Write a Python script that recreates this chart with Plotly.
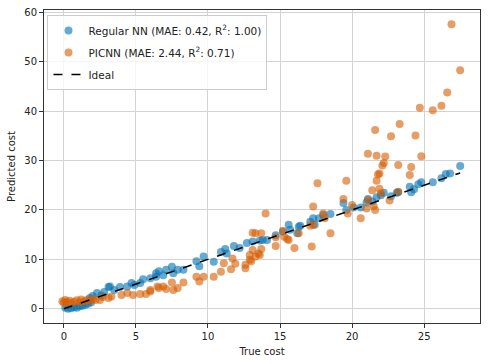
"""Predicted vs true cost scatter for Regular NN and PICNN."""

import plotly.graph_objects as go

# Regular NN predictions
nn_true = [0.1, 0.3, 0.5, 0.7, 0.9, 1.1, 1.3, 1.5, 1.7, 1.9, 1.8, 2.0, 2.3, 2.6, 2.8,
           3.1, 3.2, 3.5, 3.9, 4.4, 4.7, 4.9, 5.3, 5.5, 6.0, 6.4, 6.4, 6.6, 6.9, 7.1,
           7.5, 7.6, 7.9, 8.3, 9.2, 9.4, 9.7, 10.4, 10.9, 11.2, 11.3, 11.8, 12.2, 12.7,
           13.1, 13.6, 13.8, 14.1, 14.7, 15.2, 15.6, 15.7, 16.2, 16.3, 16.4, 17.1, 17.3,
           17.4, 17.7, 18.0, 18.5, 19.4, 19.6, 20.1, 20.6, 21.0, 21.1, 21.4, 21.7, 22.0,
           22.2, 22.7, 23.1, 23.2, 24.0, 24.1, 24.3, 24.6, 24.8, 25.6, 26.2, 26.5, 26.8,
           27.5]
nn_pred = [0.2, 0.0, 0.1, 0.3, 0.2, 0.5, 0.6, 0.8, 1.0, 1.3, 2.2, 2.6, 3.2, 2.7, 3.4,
           4.4, 4.5, 3.8, 4.4, 4.5, 5.2, 4.8, 5.2, 6.0, 6.2, 6.5, 7.2, 7.6, 6.8, 7.9,
           8.5, 7.2, 7.9, 7.9, 9.6, 8.6, 10.6, 9.5, 11.5, 12.1, 11.2, 12.7, 12.3, 13.3,
           13.6, 13.8, 13.9, 13.9, 14.9, 15.6, 17.0, 16.0, 15.3, 16.6, 16.8, 17.6, 18.3,
           17.0, 18.3, 19.0, 19.2, 21.4, 20.0, 20.5, 20.5, 21.5, 22.2, 21.7, 22.6, 23.0,
           23.5, 22.8, 23.5, 23.6, 24.7, 23.6, 24.2, 25.2, 25.6, 25.6, 26.4, 27.3, 27.4,
           28.9]

# PICNN predictions
pi_true = [-0.1, 0.0, 0.1, 0.2, 0.4, 0.5, 0.7, 0.9, 1.1, 1.2, 1.4, 1.6, 1.8, 2.0, 2.2,
           2.5, 2.7, 3.1, 3.3, 4.0, 4.4, 4.8, 5.3, 5.7, 6.0, 6.0, 6.5, 6.6, 6.9, 7.1,
           7.5, 7.6, 7.9, 8.3, 9.2, 9.4, 9.7, 10.4, 10.9, 11.1, 11.6, 11.9, 11.7, 12.6,
           12.6, 12.9, 12.9, 13.3, 13.5, 13.1, 13.0, 13.1, 13.3, 13.7, 13.7, 13.6, 14.0,
           14.7, 14.7, 15.2, 15.3, 15.5, 15.6, 16.0, 16.3, 17.1, 17.2, 17.3, 17.3, 17.6,
           18.0, 18.1, 18.5, 19.4, 19.6, 19.7, 20.0, 20.6, 21.0, 21.1, 21.1, 21.4, 21.5,
           21.6, 21.6, 21.7, 21.7, 21.8, 21.9, 21.9, 22.0, 22.1, 22.2, 22.3, 22.6, 22.7,
           23.2, 23.2, 23.3, 24.0, 24.1, 24.4, 24.7, 24.8, 25.6, 26.2, 26.6, 26.9, 27.5]
pi_pred = [1.5, 1.2, 1.8, 1.3, 1.6, 1.1, 1.4, 1.7, 1.3, 1.9, 1.5, 1.8, 1.6, 2.0, 1.8,
           1.8, 2.4, 2.2, 2.5, 2.8, 3.2, 2.8, 3.0, 3.0, 3.5, 3.8, 4.5, 4.2, 4.5, 4.0,
           5.3, 3.8, 4.2, 5.3, 6.5, 5.5, 6.5, 6.5, 7.5, 9.2, 8.0, 9.1, 10.2, 8.9,
           8.2, 9.9, 10.9, 10.6, 11.2, 11.9, 9.6, 15.4, 15.3, 15.3, 12.1, 10.9, 19.3,
           12.7, 14.5, 15.8, 14.6, 14.1, 13.9, 12.3, 15.3, 16.8, 12.6, 17.0, 20.7, 25.4,
           19.3, 18.3, 15.3, 22.2, 25.9, 19.3, 21.0, 18.3, 20.3, 22.0, 31.4, 24.0, 20.8,
           20.0, 36.2, 25.9, 31.0, 27.2, 27.4, 24.3, 23.4, 29.0, 29.5, 30.8, 21.9, 34.9,
           29.1, 23.7, 37.4, 27.1, 28.7, 35.1, 40.7, 30.9, 40.2, 41.1, 43.8, 57.6, 48.3]

ideal = [0.0, 27.5]

labels = [
    "Regular NN (MAE: 0.42, R<sup>2</sup>: 1.00)",
    "PICNN (MAE: 2.44, R<sup>2</sup>: 0.71)",
    "Ideal",
]

fig = go.Figure()
fig.add_trace(go.Scatter(
    x=nn_true, y=nn_pred, mode="markers", name=labels[0], legendgroup="nn",
    marker=dict(color="#0072B2", size=8, opacity=0.6, line=dict(width=0)),
))
fig.add_trace(go.Scatter(
    x=pi_true, y=pi_pred, mode="markers", name=labels[1], legendgroup="pi",
    marker=dict(color="#D55E00", size=8, opacity=0.6, line=dict(width=0)),
))
fig.add_trace(go.Scatter(
    x=ideal, y=ideal, mode="lines", name=labels[2], legendgroup="ideal",
    line=dict(color="black", width=1.5, dash="dash"),
))

axis_style = dict(
    showgrid=True, gridcolor="#d3d3d3", gridwidth=1, zeroline=False,
    showline=True, linecolor="#333", linewidth=1, mirror=True,
    ticks="outside", ticklen=4, tickcolor="#333", automargin=False,
    tickfont=dict(size=10, color="#222"),
)

fig.update_layout(
    width=488, height=364,
    margin=dict(l=44, r=8, t=10, b=41),
    paper_bgcolor="white", plot_bgcolor="white",
    font=dict(family="DejaVu Sans", size=10, color="#222"),
    showlegend=True,
    legend=dict(
        x=0.008, y=0.984, xanchor="left", yanchor="top",
        bgcolor="rgba(255,255,255,0.8)", bordercolor="#ccc", borderwidth=1,
        font=dict(size=10.5), itemwidth=30, tracegroupgap=3,
    ),
)
fig.update_xaxes(
    range=[-1.375, 28.875], tickvals=[0, 5, 10, 15, 20, 25],
    title=dict(text="True cost", font=dict(size=10), standoff=6), **axis_style,
)
fig.update_yaxes(
    range=[-2.88, 60.48], tickvals=[0, 10, 20, 30, 40, 50, 60],
    title=dict(text="Predicted cost", font=dict(size=10), standoff=6), **axis_style,
)

# drop the default 8px body margin so the figure sits at the page origin
fig.write_html(
    "out.html",
    config={"displayModeBar": False},
    post_script="document.body.style.margin='0px';",
)
